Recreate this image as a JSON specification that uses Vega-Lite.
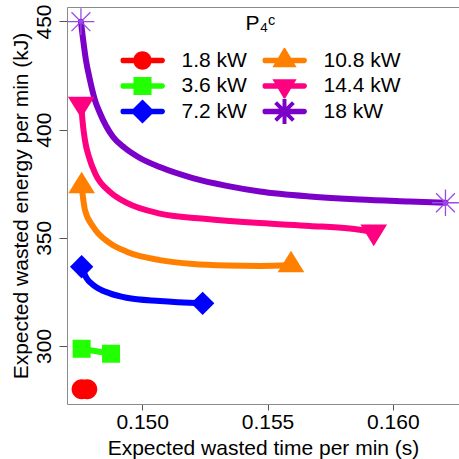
{
  "$schema": "https://vega.github.io/schema/vega-lite/v6.json",
  "width": 392,
  "height": 397,
  "autosize": {"type": "none"},
  "padding": {"left": 67, "top": 7, "right": 0, "bottom": 55},
  "background": "white",
  "config": {
    "font": "Liberation Sans",
    "view": {"stroke": null},
    "axis": {
      "grid": false,
      "labelFont": "Liberation Sans",
      "titleFont": "Liberation Sans",
      "labelFontSize": 21,
      "titleFontSize": 21,
      "titleFontWeight": "normal",
      "labelColor": "black",
      "titleColor": "black",
      "domainColor": "#8a8a8a",
      "tickColor": "#555555"
    }
  },
  "datasets": {
    "curves": [
      {"P": "18 kW", "t": 0.147556, "e": 449.9},
      {"P": "18 kW", "t": 0.147755, "e": 432.2},
      {"P": "18 kW", "t": 0.147915, "e": 423.0},
      {"P": "18 kW", "t": 0.148114, "e": 413.7},
      {"P": "18 kW", "t": 0.148313, "e": 407.7},
      {"P": "18 kW", "t": 0.148832, "e": 396.7},
      {"P": "18 kW", "t": 0.149310, "e": 391.5},
      {"P": "18 kW", "t": 0.149908, "e": 386.9},
      {"P": "18 kW", "t": 0.150706, "e": 382.7},
      {"P": "18 kW", "t": 0.152021, "e": 377.6},
      {"P": "18 kW", "t": 0.153377, "e": 374.0},
      {"P": "18 kW", "t": 0.154693, "e": 371.4},
      {"P": "18 kW", "t": 0.156686, "e": 369.1},
      {"P": "18 kW", "t": 0.158680, "e": 367.7},
      {"P": "18 kW", "t": 0.160673, "e": 366.8},
      {"P": "18 kW", "t": 0.162100, "e": 366.2},
      {"P": "14.4 kW", "t": 0.147568, "e": 411.9},
      {"P": "14.4 kW", "t": 0.147616, "e": 404.5},
      {"P": "14.4 kW", "t": 0.147715, "e": 395.2},
      {"P": "14.4 kW", "t": 0.147875, "e": 387.4},
      {"P": "14.4 kW", "t": 0.148154, "e": 379.0},
      {"P": "14.4 kW", "t": 0.148712, "e": 371.2},
      {"P": "14.4 kW", "t": 0.149390, "e": 366.1},
      {"P": "14.4 kW", "t": 0.150706, "e": 361.2},
      {"P": "14.4 kW", "t": 0.152580, "e": 358.7},
      {"P": "14.4 kW", "t": 0.154693, "e": 356.8},
      {"P": "14.4 kW", "t": 0.156686, "e": 355.5},
      {"P": "14.4 kW", "t": 0.158281, "e": 354.3},
      {"P": "14.4 kW", "t": 0.159238, "e": 352.8},
      {"P": "10.8 kW", "t": 0.147584, "e": 373.9},
      {"P": "10.8 kW", "t": 0.147715, "e": 362.9},
      {"P": "10.8 kW", "t": 0.148046, "e": 355.1},
      {"P": "10.8 kW", "t": 0.148712, "e": 347.5},
      {"P": "10.8 kW", "t": 0.149378, "e": 343.6},
      {"P": "10.8 kW", "t": 0.150706, "e": 339.7},
      {"P": "10.8 kW", "t": 0.152033, "e": 337.9},
      {"P": "10.8 kW", "t": 0.153365, "e": 337.2},
      {"P": "10.8 kW", "t": 0.154693, "e": 337.0},
      {"P": "10.8 kW", "t": 0.155937, "e": 337.4},
      {"P": "7.2 kW", "t": 0.147584, "e": 336.6},
      {"P": "7.2 kW", "t": 0.147783, "e": 331.3},
      {"P": "7.2 kW", "t": 0.148046, "e": 328.2},
      {"P": "7.2 kW", "t": 0.148712, "e": 324.3},
      {"P": "7.2 kW", "t": 0.149378, "e": 322.3},
      {"P": "7.2 kW", "t": 0.150706, "e": 320.8},
      {"P": "7.2 kW", "t": 0.152412, "e": 319.7},
      {"P": "3.6 kW", "t": 0.147584, "e": 298.7},
      {"P": "3.6 kW", "t": 0.148757, "e": 296.4},
      {"P": "1.8 kW", "t": 0.147584, "e": 280.0},
      {"P": "1.8 kW", "t": 0.147807, "e": 280.0}
    ],
    "ends": [
      {"P": "18 kW", "t": 0.147556, "e": 449.9},
      {"P": "18 kW", "t": 0.162100, "e": 366.2},
      {"P": "14.4 kW", "t": 0.147568, "e": 411.9},
      {"P": "14.4 kW", "t": 0.159238, "e": 352.8},
      {"P": "10.8 kW", "t": 0.147584, "e": 373.9},
      {"P": "10.8 kW", "t": 0.155937, "e": 337.4},
      {"P": "7.2 kW", "t": 0.147584, "e": 336.6},
      {"P": "7.2 kW", "t": 0.152412, "e": 319.7},
      {"P": "3.6 kW", "t": 0.147584, "e": 298.7},
      {"P": "3.6 kW", "t": 0.148757, "e": 296.4},
      {"P": "1.8 kW", "t": 0.147584, "e": 280.0},
      {"P": "1.8 kW", "t": 0.147807, "e": 280.0}
    ]
  },
  "encoding": {
    "y": {
      "field": "e",
      "type": "quantitative",
      "scale": {"domain": [273.17, 456.7], "nice": false, "zero": false},
      "axis": {
        "values": [300, 350, 400, 450],
        "title": "Expected wasted energy per min (kJ)",
        "tickSize": 8,
        "labelAngle": -90,
        "labelAlign": "center",
        "labelBaseline": "alphabetic",
        "labelPadding": 9,
        "titlePadding": 2
      }
    }
  },
  "layer": [
    {
      "data": {"name": "curves"},
      "mark": {"type": "line", "strokeWidth": 6, "interpolate": "monotone", "strokeCap": "round", "strokeJoin": "round"},
      "encoding": {
        "x": {
          "field": "t",
          "type": "quantitative",
          "scale": {"domain": [0.147, 0.16264], "nice": false, "zero": false},
          "axis": {
            "orient": "bottom",
            "values": [0.15, 0.155, 0.16],
            "format": ".3f",
            "title": "Expected wasted time per min (s)",
            "tickSize": 6,
            "labelPadding": 1.5,
            "titlePadding": 5
          }
        },
        "color": {
          "field": "P",
          "type": "nominal",
          "scale": {
            "domain": ["1.8 kW", "3.6 kW", "7.2 kW", "10.8 kW", "14.4 kW", "18 kW"],
            "range": ["#ff0000", "#22ff00", "#0000ff", "#ff7f00", "#ff0080", "#7b00c8"]
          },
          "legend": null
        }
      }
    },
    {
      "data": {"name": "ends"},
      "transform": [{"filter": "datum.P != '18 kW'"}],
      "mark": {"type": "point", "filled": true, "size": 900, "opacity": 1, "strokeWidth": 0},
      "encoding": {
        "x": {
          "field": "t",
          "type": "quantitative",
          "axis": {"orient": "top", "labels": false, "ticks": false, "title": null, "domain": true}
        },
        "color": {
          "field": "P",
          "type": "nominal",
          "scale": {
            "domain": ["1.8 kW", "3.6 kW", "7.2 kW", "10.8 kW", "14.4 kW"],
            "range": ["#ff0000", "#22ff00", "#0000ff", "#ff7f00", "#ff0080"]
          },
          "legend": null
        },
        "shape": {
          "field": "P",
          "type": "nominal",
          "scale": {
            "domain": ["1.8 kW", "3.6 kW", "7.2 kW", "10.8 kW", "14.4 kW"],
            "range": [
              "M0.667,0A0.667,0.667 0 1,1 -0.667,0A0.667,0.667 0 1,1 0.667,0Z",
              "M-0.6,-0.6H0.6V0.6H-0.6Z",
              "M0,-0.78L0.78,0L0,0.78L-0.78,0Z",
              "M0,-0.96L0.89,0.48L-0.89,0.48Z",
              "M0,0.96L-0.89,-0.48L0.89,-0.48Z"
            ]
          },
          "legend": null
        }
      }
    },
    {
      "data": {"name": "ends"},
      "transform": [{"filter": "datum.P == '18 kW'"}],
      "mark": {
        "type": "point",
        "filled": false,
        "size": 900,
        "strokeWidth": 1.3,
        "opacity": 1,
        "color": "#9a4ae6",
        "shape": "M-0.89,0H0.89M0,-0.89V0.89M-0.63,-0.63L0.63,0.63M-0.63,0.63L0.63,-0.63"
      },
      "encoding": {
        "x": {"field": "t", "type": "quantitative", "axis": null}
      }
    },
    {
      "data": {"name": "ends"},
      "mark": {"type": "point", "filled": true, "size": 1936, "opacity": 0},
      "encoding": {
        "x": {"field": "t", "type": "quantitative", "axis": null},
        "color": {
          "field": "P",
          "type": "nominal",
          "scale": {
            "domain": ["1.8 kW", "3.6 kW", "7.2 kW", "10.8 kW", "14.4 kW", "18 kW"],
            "range": ["#ff0000", "#22ff00", "#0000ff", "#ff7f00", "#ff0080", "#7b00c8"]
          },
          "legend": {
            "title": "P₄ᶜ",
            "orient": "none",
            "legendX": 53.5,
            "legendY": 6,
            "columns": 2,
            "clipHeight": 25,
            "symbolSize": 1936,
            "symbolStrokeWidth": 0,
            "symbolOpacity": 1,
            "labelFont": "Liberation Sans",
            "labelFontSize": 21,
            "labelColor": "black",
            "labelOffset": 17,
            "labelLimit": 200,
            "columnPadding": 15,
            "rowPadding": 0.5,
            "titleFont": "Liberation Sans",
            "titleFontSize": 21,
            "titleFontWeight": "normal",
            "titleColor": "black",
            "titleAnchor": "middle",
            "titlePadding": 14,
            "padding": 0
          }
        },
        "shape": {
          "field": "P",
          "type": "nominal",
          "scale": {
            "domain": ["1.8 kW", "3.6 kW", "7.2 kW", "10.8 kW", "14.4 kW", "18 kW"],
            "range": [
              "M-0.9,-0.12H0.9A0.12,0.12 0 0,1 0.9,0.12H-0.9A0.12,0.12 0 0,1 -0.9,-0.12Z M0.42,0A0.42,0.42 0 1,1 -0.42,0A0.42,0.42 0 1,1 0.42,0Z",
              "M-0.9,-0.12H0.9A0.12,0.12 0 0,1 0.9,0.12H-0.9A0.12,0.12 0 0,1 -0.9,-0.12Z M-0.41,-0.41H0.41V0.41H-0.41Z",
              "M-0.9,-0.12H0.9A0.12,0.12 0 0,1 0.9,0.12H-0.9A0.12,0.12 0 0,1 -0.9,-0.12Z M0,-0.55L0.55,0L0,0.55L-0.55,0Z",
              "M-0.9,-0.12H0.9A0.12,0.12 0 0,1 0.9,0.12H-0.9A0.12,0.12 0 0,1 -0.9,-0.12Z M0,-0.62L0.55,0.31L-0.55,0.31Z",
              "M-0.9,-0.12H0.9A0.12,0.12 0 0,1 0.9,0.12H-0.9A0.12,0.12 0 0,1 -0.9,-0.12Z M-0.55,-0.31L0.55,-0.31L0,0.62Z",
              "M-0.9,-0.12H0.9A0.12,0.12 0 0,1 0.9,0.12H-0.9A0.12,0.12 0 0,1 -0.9,-0.12Z M0.09,-0.57L0.09,0.57L-0.09,0.57L-0.09,-0.57Z M-0.339,-0.467L0.467,0.339L0.339,0.467L-0.467,-0.339Z M-0.467,0.339L0.339,-0.467L0.467,-0.339L-0.339,0.467Z"
            ]
          },
          "legend": {
            "title": "P₄ᶜ",
            "orient": "none",
            "legendX": 53.5,
            "legendY": 6,
            "columns": 2,
            "clipHeight": 25,
            "symbolSize": 1936,
            "symbolStrokeWidth": 0,
            "symbolOpacity": 1,
            "labelFont": "Liberation Sans",
            "labelFontSize": 21,
            "labelColor": "black",
            "labelOffset": 17,
            "labelLimit": 200,
            "columnPadding": 15,
            "rowPadding": 0.5,
            "titleFont": "Liberation Sans",
            "titleFontSize": 21,
            "titleFontWeight": "normal",
            "titleColor": "black",
            "titleAnchor": "middle",
            "titlePadding": 14,
            "padding": 0
          }
        }
      }
    }
  ],
  "resolve": {
    "scale": {"color": "independent", "shape": "independent"},
    "axis": {"x": "independent"}
  }
}
